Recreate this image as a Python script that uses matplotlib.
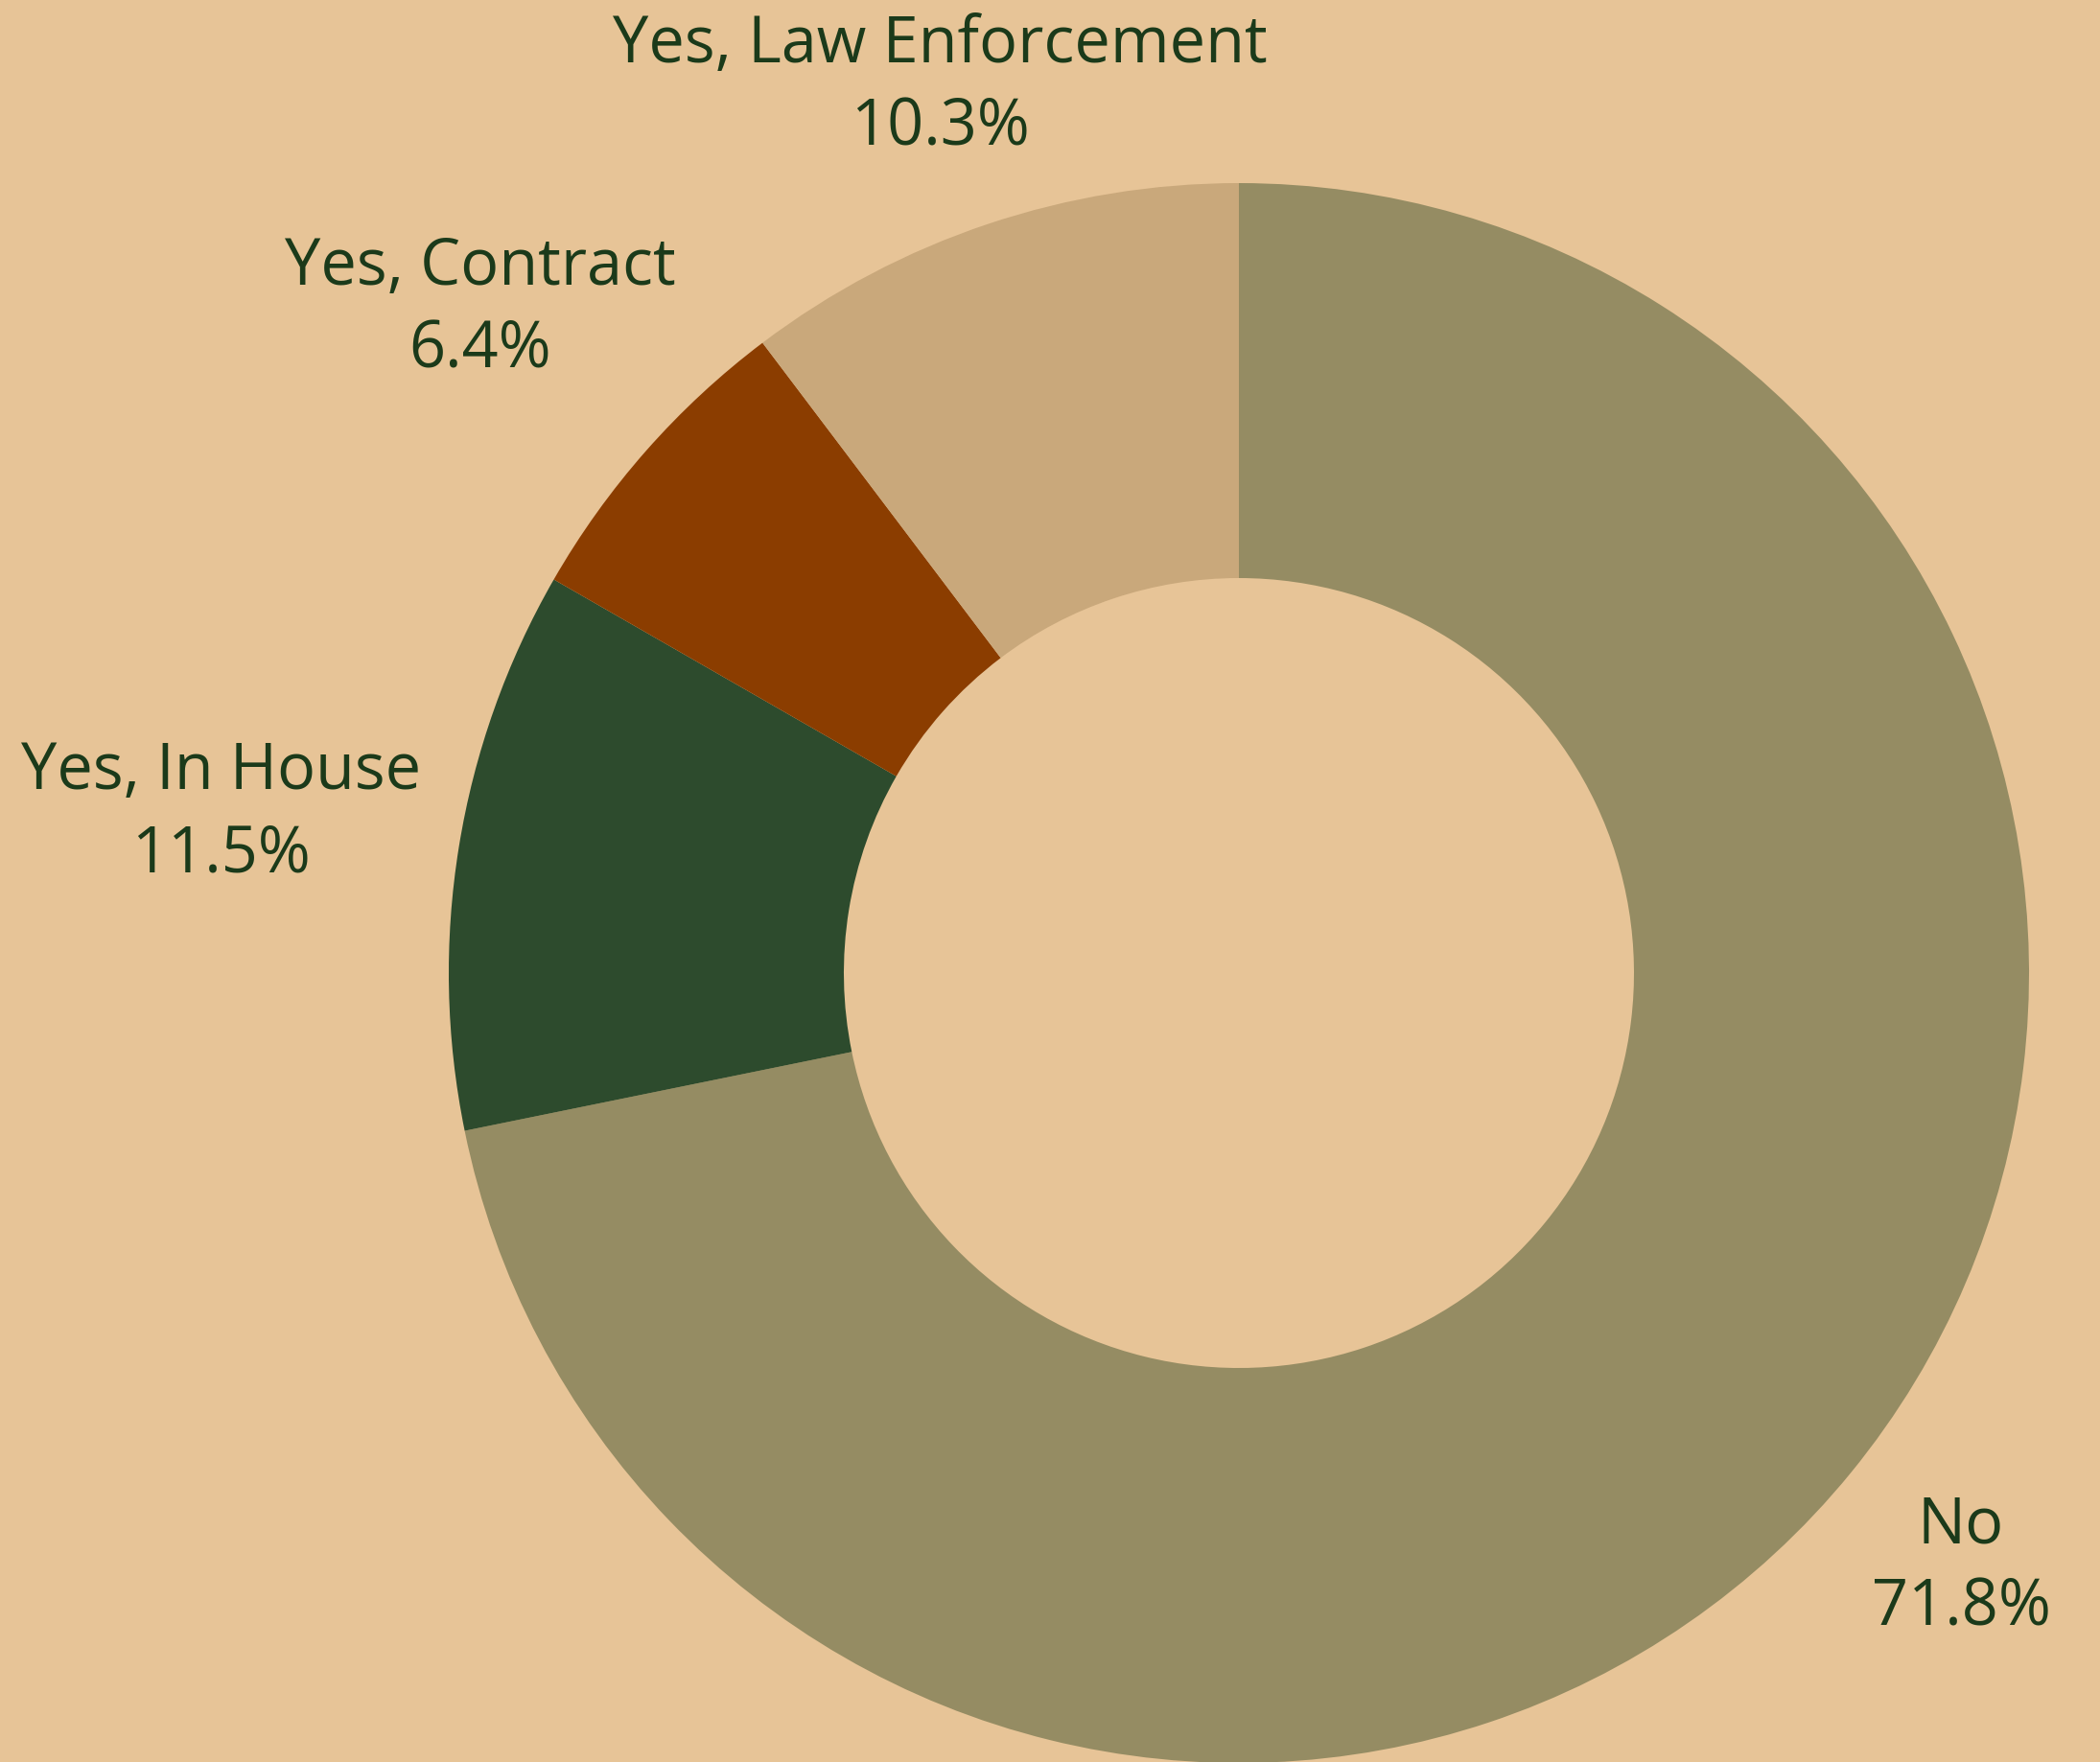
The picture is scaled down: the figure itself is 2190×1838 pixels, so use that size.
import matplotlib
matplotlib.use("Agg")
import matplotlib.pyplot as plt
import numpy as np

categories = ["No", "Yes, In House", "Yes, Contract", "Yes, Law Enforcement"]
values = [71.8, 11.5, 6.4, 10.3]
colors = ["#958C63", "#2D4B2D", "#8B3D00", "#C9A87B"]
label_dist = [1.18, 1.305, 1.28, 1.19]

BG = "#E7C497"
TXT = "#1B3A1A"

W, H = 2190, 1838
fig = plt.figure(figsize=(W / 100, H / 100), dpi=100, facecolor=BG)
ax = fig.add_axes([0, 0, 1, 1])
ax.set_xlim(0, W)
ax.set_ylim(0, H)
ax.set_aspect("equal")
ax.axis("off")

cx, cy, R = 1292, H - 1015, 824
wedges, _ = ax.pie(values, colors=colors, startangle=90, counterclock=False,
                   center=(cx, cy), radius=R, frame=True,
                   wedgeprops=dict(width=R * 0.5, linewidth=0))
ax.set_xlim(0, W)
ax.set_ylim(0, H)
ax.axis("off")

for w, cat, v, d in zip(wedges, categories, values, label_dist):
    ang = np.deg2rad((w.theta1 + w.theta2) / 2)
    x = cx + R * d * np.cos(ang)
    y = cy + R * d * np.sin(ang) - 5
    ax.text(x, y, f"{cat}\n{v:.1f}%", ha="center", va="center",
            fontsize=48, color=TXT, family=["Open Sans", "DejaVu Sans"],
            linespacing=1.36)

fig.savefig("out.png", dpi=100, facecolor=BG)
